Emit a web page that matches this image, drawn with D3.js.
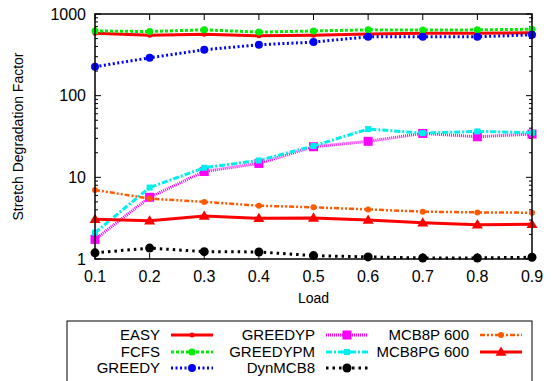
<!DOCTYPE html>
<html>
<head>
<meta charset="utf-8">
<script src="https://cdn.jsdelivr.net/npm/d3@7"></script>
<style>
  body { margin: 0; background: #fff; }
  svg { display: block; font-family: "Liberation Sans", Arial, sans-serif; }
</style>
</head>
<body>
<div id="chart"></div>
<script>
const loads = [0.1, 0.2, 0.3, 0.4, 0.5, 0.6, 0.7, 0.8, 0.9];
const yTicks = [1, 10, 100, 1000];

const easy = [580, 550, 565, 540, 550, 570, 580, 580, 590];
const fcfs = [620, 610, 640, 600, 620, 640, 635, 640, 650];
const greedy = [226, 291, 365, 420, 453, 526, 526, 526, 556];
const greedyP = [1.74, 5.7, 11.8, 14.8, 23.7, 27.6, 34.5, 31.4, 33.9];
const greedyPM = [2.1, 7.5, 13.1, 16.1, 24.2, 39, 34.8, 36.5, 35.2];
const dynMCB8 = [1.19, 1.36, 1.23, 1.22, 1.1, 1.06, 1.03, 1.03, 1.05];
const mcb8p600 = [7.0, 5.5, 5.0, 4.5, 4.29, 4.05, 3.8, 3.72, 3.69];
const mcb8pg600 = [3.06, 2.94, 3.36, 3.15, 3.18, 3.0, 2.78, 2.63, 2.66];

const series = [
    { name: "EASY", values: easy, color: "#ff0000", dash: null, width: 3, marker: "dot", size: 2.5 },
    { name: "FCFS", values: fcfs, color: "#00ee00", dash: "3,2", width: 3, marker: "circle", size: 3.5 },
    { name: "GREEDY", values: greedy, color: "#0000ff", dash: "2,2.5", width: 3, marker: "circle", size: 4 },
    { name: "GREEDYP", values: greedyP, color: "#ff00ff", dash: "1,1", width: 3, marker: "square", size: 9 },
    { name: "GREEDYPM", values: greedyPM, color: "#00eeee", dash: "6,2,2,2", width: 3, marker: "square", size: 6 },
    { name: "DynMCB8", values: dynMCB8, color: "#000000", dash: "2.5,4", width: 3, marker: "circle", size: 4.5 },
    { name: "MCB8P 600", values: mcb8p600, color: "#ff5a00", dash: "5,2,2,2,2,2", width: 2.5, marker: "circle", size: 3 },
    { name: "MCB8PG 600", values: mcb8pg600, color: "#ff0000", dash: null, width: 3, marker: "triangle", size: 11 }
];

const W = 557, H = 381;
const margin = { top: 14, right: 25, bottom: 122, left: 95 };
const plotW = W - margin.left - margin.right;
const plotH = H - margin.top - margin.bottom;

const svg = d3.select("#chart").append("svg")
    .attr("width", W).attr("height", H);

const root = svg.append("g").attr("transform", `translate(${margin.left},${margin.top})`);

const x = d3.scaleLinear().domain([0.1, 0.9]).range([0, plotW]);
const y = d3.scaleLog().domain([1, 1000]).range([plotH, 0]);

// minor log ticks
const minor = [];
for (let d = 1; d < 1000; d *= 10) {
    for (let k = 2; k <= 9; k++) minor.push(d * k);
}

const tickCol = "#000";
const axes = root.append("g");
minor.forEach((v) => {
    axes.append("line").attr("x1", 0).attr("x2", 3).attr("y1", y(v)).attr("y2", y(v)).attr("stroke", tickCol);
    axes.append("line").attr("x1", plotW).attr("x2", plotW - 3).attr("y1", y(v)).attr("y2", y(v)).attr("stroke", tickCol);
});
yTicks.forEach((v) => {
    axes.append("line").attr("x1", 0).attr("x2", 6).attr("y1", y(v)).attr("y2", y(v)).attr("stroke", tickCol);
    axes.append("line").attr("x1", plotW).attr("x2", plotW - 6).attr("y1", y(v)).attr("y2", y(v)).attr("stroke", tickCol);
    axes.append("text").attr("x", -9).attr("y", y(v)).attr("dy", "0.35em")
        .attr("text-anchor", "end").attr("font-size", 16).text(d3.format("d")(v));
});
loads.forEach((v) => {
    axes.append("line").attr("x1", x(v)).attr("x2", x(v)).attr("y1", plotH).attr("y2", plotH - 6).attr("stroke", tickCol);
    axes.append("line").attr("x1", x(v)).attr("x2", x(v)).attr("y1", 0).attr("y2", 6).attr("stroke", tickCol);
    axes.append("text").attr("x", x(v)).attr("y", plotH + 23)
        .attr("text-anchor", "middle").attr("font-size", 16).text(d3.format(".1f")(v));
});

root.append("text").attr("x", plotW / 2).attr("y", plotH + 44)
    .attr("text-anchor", "middle").attr("font-size", 14).text("Load");
root.append("text")
    .attr("transform", `translate(${-72},${plotH / 2}) rotate(-90)`)
    .attr("text-anchor", "middle").attr("font-size", 14).text("Stretch Degradation Factor");

function drawMarker(g, s, cx, cy) {
    if (s.marker === "circle" || s.marker === "dot") {
        g.append("circle").attr("cx", cx).attr("cy", cy).attr("r", s.size).attr("fill", s.color);
    } else if (s.marker === "square") {
        g.append("rect").attr("x", cx - s.size / 2).attr("y", cy - s.size / 2)
            .attr("width", s.size).attr("height", s.size).attr("fill", s.color);
    } else if (s.marker === "triangle") {
        const h = s.size * 0.85;
        g.append("path")
            .attr("d", `M${cx},${cy - h * 0.6}L${cx + s.size / 2},${cy + h * 0.4}L${cx - s.size / 2},${cy + h * 0.4}Z`)
            .attr("fill", s.color);
    }
}

const line = d3.line().x((d, i) => x(loads[i])).y((d) => y(d));

const plot = root.append("g");
series.forEach((s) => {
    const g = plot.append("g");
    g.append("path").datum(s.values).attr("d", line)
        .attr("fill", "none").attr("stroke", s.color).attr("stroke-width", s.width)
        .attr("stroke-dasharray", s.dash);
    s.values.forEach((v, i) => drawMarker(g, s, x(loads[i]), y(v)));
});

// frame
root.append("rect").attr("width", plotW).attr("height", plotH)
    .attr("fill", "none").attr("stroke", "#000").attr("stroke-width", 1.5);

// legend
const legend = svg.append("g");
legend.append("rect").attr("x", 67).attr("y", 321).attr("width", 465).attr("height", 80)
    .attr("fill", "#fff").attr("stroke", "#000").attr("stroke-width", 1);

const colTextX = [160, 315, 469];
const rowY = [335, 352, 368];
series.forEach((s, i) => {
    const col = Math.floor(i / 3), row = i % 3;
    const tx = colTextX[col], ty = rowY[row];
    legend.append("text").attr("x", tx).attr("y", ty).attr("dy", "0.35em")
        .attr("text-anchor", "end").attr("font-size", 15).text(s.name);
    const x0 = tx + 11, x1 = tx + 53;
    legend.append("line").attr("x1", x0).attr("x2", x1).attr("y1", ty).attr("y2", ty)
        .attr("stroke", s.color).attr("stroke-width", s.width).attr("stroke-dasharray", s.dash);
    drawMarker(legend, s, (x0 + x1) / 2, ty);
});
</script>
</body>
</html>
